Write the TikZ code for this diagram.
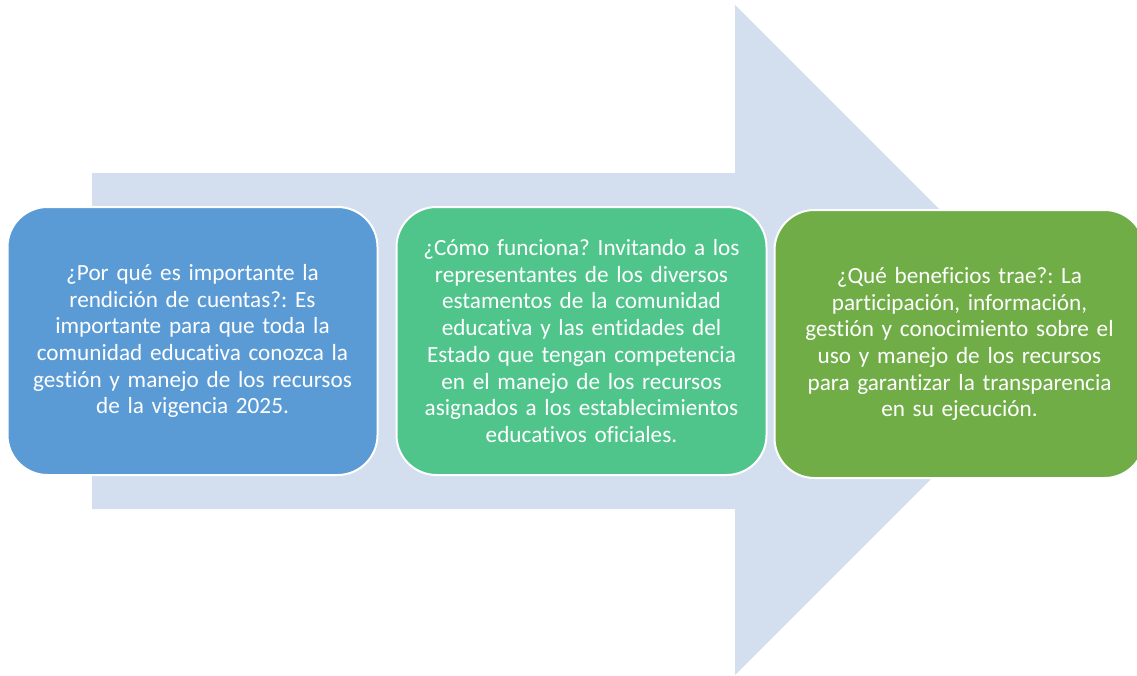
\documentclass[tikz,border=0pt]{standalone}
\usepackage{fontspec}
\setmainfont[Ligatures={NoCommon}]{Carlito}
\usetikzlibrary{positioning}
\definecolor{arrowbody}{HTML}{D3DEEE}
\definecolor{porque}{HTML}{5B9BD5}
\definecolor{como}{HTML}{4FC58C}
\definecolor{beneficio}{HTML}{70AD47}
\frenchspacing

\begin{document}
\begin{tikzpicture}[
    x=1pt, y=-1pt,
    font=\fontsize{23.2}{26.7}\selectfont,
    card/.style={
        draw=white,
        line width=2pt,
        rounded corners=40pt,
        text=white,
        align=center,
        minimum width=370pt,
        minimum height=268pt,
        text width=350pt,
        inner sep=0pt
    },
    porque/.style={card, fill=porque},
    como/.style={card, fill=como},
    beneficio/.style={card, fill=beneficio}
]
\clip (0,0) rectangle (1137,675);

% Background arrow
\fill[arrowbody] (92,173) -- (735,173) -- (735,5) -- (1070,340)
    -- (735,675) -- (735,509) -- (92,509) -- cycle;

% Cards
\node[porque] (Q1) at (192.5,341) {¿Por qué es importante la\\rendición de cuentas?: Es\\importante para que toda la\\comunidad educativa conozca la\\gestión y manejo de los recursos\\de la vigencia 2025.};
\node[como, right=17pt of Q1] (Q2) {¿Cómo funciona? Invitando a los\\representantes de los diversos\\estamentos de la comunidad\\educativa y las entidades del\\Estado que tengan competencia\\en el manejo de los recursos\\asignados a los establecimientos\\educativos oficiales.};
\node[beneficio, right=6pt of Q2, yshift=-3pt] (Q3) {¿Qué beneficios trae?: La\\participación, información,\\gestión y conocimiento sobre el\\uso y manejo de los recursos\\para garantizar la transparencia\\en su ejecución.};

\end{tikzpicture}
\end{document}
